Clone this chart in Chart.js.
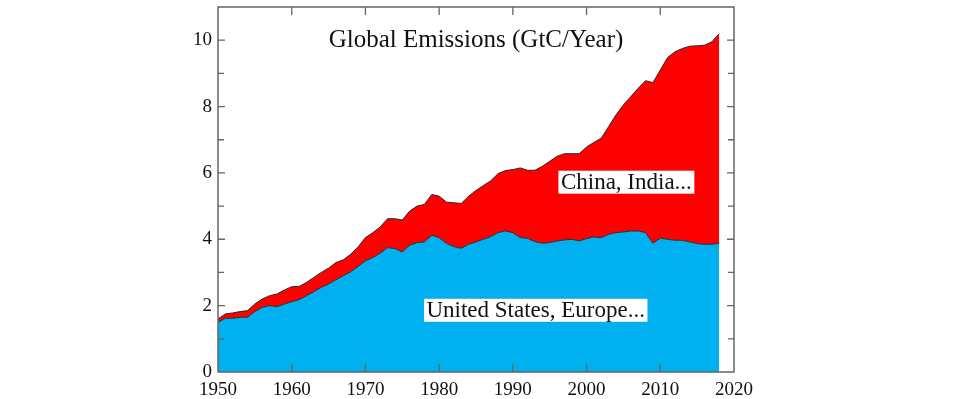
<!DOCTYPE html>
<html>
<head>
<meta charset="utf-8">
<script src="https://cdn.jsdelivr.net/npm/chart.js@4/dist/chart.umd.min.js"></script>
<style>
  html, body { margin: 0; padding: 0; background: #fff; }
  canvas { display: block; }
</style>
</head>
<body>
<canvas id="c" width="980" height="399"></canvas>
<script>
const years = [1950,1951,1952,1953,1954,1955,1956,1957,1958,1959,
               1960,1961,1962,1963,1964,1965,1966,1967,1968,1969,
               1970,1971,1972,1973,1974,1975,1976,1977,1978,1979,
               1980,1981,1982,1983,1984,1985,1986,1987,1988,1989,
               1990,1991,1992,1993,1994,1995,1996,1997,1998,1999,
               2000,2001,2002,2003,2004,2005,2006,2007,2008,2009,
               2010,2011,2012,2013,2014,2015,2016,2017,2018];

// United States, Europe... (GtC/yr)
const usEurope = [1.50,1.62,1.62,1.65,1.65,1.82,1.95,2.00,1.97,2.05,
                  2.12,2.18,2.30,2.42,2.55,2.65,2.78,2.90,3.02,3.18,
                  3.35,3.45,3.58,3.75,3.72,3.62,3.82,3.90,3.92,4.12,
                  4.05,3.88,3.78,3.73,3.85,3.92,4.00,4.08,4.20,4.25,
                  4.20,4.05,4.03,3.93,3.88,3.90,3.95,3.98,4.00,3.95,
                  4.02,4.07,4.05,4.15,4.20,4.22,4.25,4.25,4.20,3.88,
                  4.03,4.00,3.97,3.97,3.92,3.87,3.85,3.85,3.88];

// Global total (top of China, India... band)
const globalTotal = [1.60,1.75,1.78,1.82,1.85,2.05,2.20,2.30,2.35,2.47,
                     2.57,2.58,2.70,2.85,3.00,3.13,3.30,3.38,3.55,3.77,
                     4.05,4.20,4.37,4.62,4.62,4.58,4.85,5.00,5.05,5.35,
                     5.30,5.12,5.10,5.08,5.30,5.47,5.62,5.76,5.98,6.07,
                     6.10,6.15,6.08,6.08,6.20,6.35,6.50,6.58,6.58,6.58,
                     6.78,6.92,7.05,7.40,7.75,8.05,8.30,8.55,8.78,8.72,
                     9.10,9.48,9.65,9.75,9.82,9.83,9.85,9.95,10.20];

const xTickLabels = [1950,1960,1970,1980,1990,2000,2010,2020];
const yTickLabels = [0,2,4,6,8,10];

const titleText = 'Global Emissions (GtC/Year)';
const labelWest = 'United States, Europe...';
const labelEast = 'China, India...';

const SERIF = '"Liberation Serif", "DejaVu Serif", serif';

const framePlugin = {
  id: 'frame',
  afterDraw(chart) {
    const ctx = chart.ctx;
    const a = chart.chartArea;
    const xs = chart.scales.x, ys = chart.scales.y;
    ctx.save();
    // text labels
    ctx.font = '25px ' + SERIF;
    ctx.fillStyle = '#111';
    ctx.textAlign = 'center';
    ctx.textBaseline = 'alphabetic';
    ctx.fillText(titleText, xs.getPixelForValue(1985), ys.getPixelForValue(9.8));

    ctx.font = '23px ' + SERIF;
    const boxes = [
      [labelEast, 2005.4, 5.72],
      [labelWest, 1993.1, 1.86]
    ];
    boxes.forEach(([t, xv, yv]) => {
      const cx = xs.getPixelForValue(xv), cy = ys.getPixelForValue(yv);
      const w = ctx.measureText(t).width + 5;
      ctx.fillStyle = '#fff';
      ctx.fillRect(cx - w / 2, cy - 11.5, w, 23);
      ctx.fillStyle = '#111';
      ctx.textBaseline = 'middle';
      ctx.fillText(t, cx, cy + 1);
    });

    // frame
    ctx.strokeStyle = '#666';
    ctx.lineWidth = 1.5;
    ctx.strokeRect(a.left, a.top, a.right - a.left, a.bottom - a.top);
    // ticks
    ctx.lineWidth = 1.3;
    ctx.beginPath();
    for (let v = 1960; v <= 2010; v += 10) {
      const px = xs.getPixelForValue(v);
      ctx.moveTo(px, a.bottom); ctx.lineTo(px, a.bottom - 8);
      ctx.moveTo(px, a.top); ctx.lineTo(px, a.top + 8);
    }
    for (let v = 1; v <= 10; v++) {
      const py = ys.getPixelForValue(v);
      const len = (v % 2 === 0) ? 7 : 6;
      ctx.moveTo(a.left, py); ctx.lineTo(a.left + len, py);
      ctx.moveTo(a.right, py); ctx.lineTo(a.right - len, py);
    }
    ctx.stroke();
    ctx.restore();
  }
};

new Chart(document.getElementById('c'), {
  type: 'line',
  data: {
    datasets: [
      {
        label: labelWest,
        data: years.map((y, i) => ({ x: y, y: usEurope[i] })),
        borderColor: '#2a2a2a',
        borderWidth: 1,
        backgroundColor: '#00B0F0',
        fill: 'origin',
        pointRadius: 0,
        tension: 0
      },
      {
        label: labelEast,
        data: years.map((y, i) => ({ x: y, y: globalTotal[i] })),
        borderColor: '#2a2a2a',
        borderWidth: 1,
        backgroundColor: '#FF0000',
        fill: '-1',
        pointRadius: 0,
        tension: 0
      }
    ]
  },
  options: {
    responsive: false,
    animation: false,
    devicePixelRatio: 1,
    layout: { padding: { top: 7, right: 246, left: 0, bottom: 0 } },
    plugins: { legend: { display: false }, tooltip: { enabled: false }, title: { display: false } },
    scales: {
      x: {
        type: 'linear',
        min: 1950, max: 2020,
        border: { display: false },
        grid: { display: false, drawTicks: false },
        afterBuildTicks(scale) { scale.ticks = xTickLabels.map(v => ({ value: v })); },
        afterFit(scale) { scale.height = 27; scale.paddingLeft = 0; scale.paddingRight = 0; },
        ticks: {
          padding: 7,
          maxRotation: 0,
          autoSkip: false,
          color: '#111',
          font: { family: SERIF, size: 19 },
          callback: v => String(v)
        }
      },
      y: {
        min: 0, max: 11,
        border: { display: false },
        grid: { display: false, drawTicks: false },
        afterBuildTicks(scale) { scale.ticks = yTickLabels.map(v => ({ value: v })); },
        afterFit(scale) { scale.width = 218; scale.paddingTop = 0; scale.paddingBottom = 0; },
        ticks: {
          padding: 6,
          autoSkip: false,
          color: '#111',
          font: { family: SERIF, size: 19 },
          callback: v => String(v)
        }
      }
    }
  },
  plugins: [framePlugin]
});
</script>
</body>
</html>
